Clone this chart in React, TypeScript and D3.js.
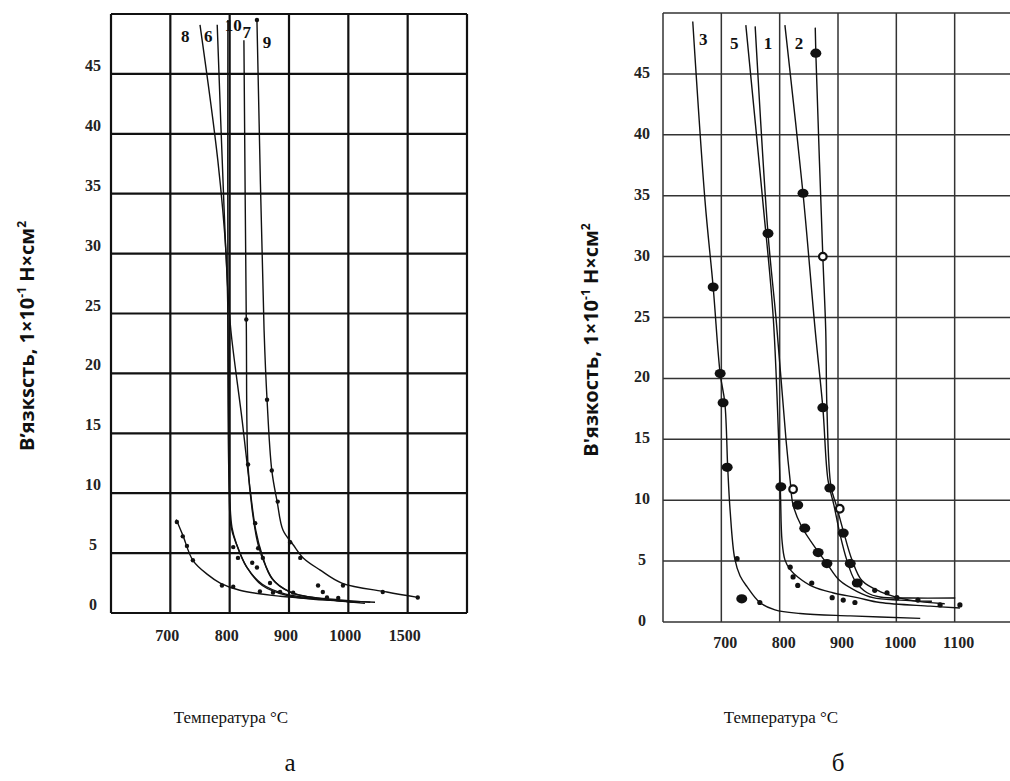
import React, { useEffect, useRef } from 'react';
import * as d3 from 'd3';

// ---------- panel "а" (left) ----------
const curve8 = [[750, 49.1], [780, 37.8], [794, 29.9], [797, 25.0], [799, 11.9], [802, 7.3], [811, 5.8], [828, 3.9], [855, 2.3], [902, 1.4], [986, 1.0], [1028, 0.8]];
const curve6 = [[779, 49.1], [790, 34.5], [796, 27.8], [802, 23.6], [821, 16.1], [834, 10.5], [844, 6.9], [855, 4.8], [871, 2.9], [902, 1.75], [969, 1.1], [1020, 0.9]];
const curve10 = [[797, 49.5], [797, 25.0], [799, 11.1], [804, 7.1], [812, 5.7], [829, 3.8], [855, 2.4], [893, 1.6], [969, 1.1], [1045, 0.9]];
const curve7 = [[824, 47.8], [828, 24.5], [831, 12.2], [839, 8.2], [848, 5.7], [860, 4.0], [876, 2.6], [910, 1.6], [986, 1.1], [1037, 0.9]];
const curve9 = [[846, 49.4], [858, 23.6], [863, 17.8], [871, 11.9], [880, 9.3], [890, 6.9], [907, 5.7], [924, 4.6], [952, 3.6], [989, 2.5], [1065, 1.75], [1117, 1.3]];
const curveLow = [[710, 7.8], [721, 6.5], [738, 4.4], [763, 3.2], [784, 2.5], [817, 1.9], [885, 1.4], [969, 1.1], [1011, 0.9]];

const leftDots = [
  [711, 7.6], [721, 6.4], [728, 5.6], [738, 4.4], [787, 2.3], [806, 2.2],
  [846, 49.5], [863, 17.8], [871, 11.9], [881, 9.3], [902, 5.9], [919, 4.6], [991, 2.3], [1058, 1.75], [1117, 1.3],
  [828, 24.5], [831, 12.4], [843, 7.5], [848, 5.4], [814, 4.6], [838, 4.2], [846, 3.8], [856, 4.6], [806, 5.5],
  [851, 1.8], [868, 2.5], [873, 1.7], [885, 1.75], [907, 1.7], [949, 2.3], [957, 1.75], [964, 1.3], [983, 1.25],
];

const leftCurveLabels = [
  { text: '8', t: 725, v: 48.2 },
  { text: '6', t: 764, v: 48.2 },
  { text: '10', t: 806, v: 49.1 },
  { text: '7', t: 829, v: 48.5 },
  { text: '9', t: 863, v: 47.7 },
];

const leftXTickLabels = ['700', '800', '900', '1000', '1500'];

// ---------- panel "б" (right) ----------
const curve3 = [[651, 49.3], [672, 34.6], [686, 27.5], [698, 20.4], [706, 18.0], [711, 12.6], [715, 9.2], [723, 5.2], [732, 3.8], [744, 2.9], [766, 1.6], [792, 1.0], [835, 0.7], [921, 0.5], [1041, 0.3]];
const curve5 = [[742, 49.0], [771, 34.6], [789, 25.0], [801, 11.1], [804, 6.7], [809, 5.1], [818, 4.3], [831, 3.7], [857, 2.9], [891, 2.4], [933, 2.0], [972, 1.6], [1058, 1.3], [1109, 1.15]];
const curve1 = [[758, 48.9], [780, 31.9], [794, 24.8], [811, 14.9], [818, 11.6], [823, 9.6], [838, 7.8], [864, 5.9], [881, 4.8], [903, 3.4], [933, 2.5], [960, 2.0], [1006, 1.8], [1061, 1.7]];
const curve2 = [[809, 49.0], [840, 35.2], [861, 23.9], [874, 17.6], [883, 11.6], [893, 9.6], [903, 7.3], [915, 5.1], [929, 3.4], [950, 2.4], [972, 2.05], [1023, 1.97], [1101, 1.97]];
const curve4 = [[861, 48.8], [862, 46.7], [874, 30.0], [879, 23.9], [881, 17.6], [888, 11.1], [897, 9.6], [909, 7.5], [924, 5.1], [941, 3.4], [972, 2.5], [1023, 1.8], [1083, 1.5]];

const rightBigDots = [
  [862, 46.7], [840, 35.2], [780, 31.9], [686, 27.5], [698, 20.4], [703, 18.0], [710, 12.7],
  [802, 11.1], [886, 11.0], [874, 17.6], [831, 9.6], [843, 7.7], [866, 5.7], [881, 4.8],
  [909, 7.3], [921, 4.8], [933, 3.2], [735, 1.9],
];
const rightOpenDots = [[823, 10.9], [874, 30.0], [903, 9.3]];
const rightSmallDots = [
  [727, 5.2], [766, 1.6], [818, 4.5], [823, 3.7], [831, 3.0], [855, 3.2], [890, 2.0], [909, 1.8], [929, 1.6],
  [963, 2.6], [984, 2.4], [1001, 2.0], [1037, 1.8], [1075, 1.4], [1109, 1.4],
];

const rightCurveLabels = [
  { text: '3', t: 669, v: 47.9 },
  { text: '5', t: 722, v: 47.5 },
  { text: '1', t: 780, v: 47.5 },
  { text: '2', t: 833, v: 47.5 },
];

const rightXTickLabels = ['700', '800', '900', '1000', '1100'];

const xTickValues = [700, 800, 900, 1000, 1100];
const yTickValues = [0, 5, 10, 15, 20, 25, 30, 35, 40, 45];
const xGridValues = [600, 700, 800, 900, 1000, 1100, 1200];

const SERIF = "'Liberation Serif', 'Times New Roman', serif";
const SANS = "'Open Sans', 'Noto Sans', sans-serif";

const drawPanel = (svg, p) => {
  const x = d3.scaleLinear().domain([600, 1200]).range([p.left, p.right]);
  const y = d3.scaleLinear().domain([0, 50]).range([p.bottom, p.top]);
  const g = svg.append('g');

  // grid + frame
  xGridValues.forEach(v => {
    g.append('line')
      .attr('x1', x(v)).attr('x2', x(v))
      .attr('y1', y(50)).attr('y2', y(0))
      .attr('stroke', p.gridColor).attr('stroke-width', p.gridWidth);
  });
  yTickValues.concat([50]).forEach(v => {
    g.append('line')
      .attr('x1', x(600)).attr('x2', x(1200))
      .attr('y1', y(v)).attr('y2', y(v))
      .attr('stroke', p.gridColor).attr('stroke-width', p.gridWidth);
  });

  // tick labels
  yTickValues.forEach(v => {
    g.append('text')
      .attr('x', p.yLabelX)
      .attr('y', y(v) + p.yLabelDy)
      .attr('text-anchor', 'middle')
      .style('font-family', SERIF)
      .style('font-weight', 'bold')
      .style('font-size', '16px')
      .attr('fill', '#222')
      .text(v);
  });
  xTickValues.forEach((v, i) => {
    g.append('text')
      .attr('x', x(v) + p.xLabelDx)
      .attr('y', p.xLabelY)
      .attr('text-anchor', 'middle')
      .style('font-family', SERIF)
      .style('font-weight', 'bold')
      .style('font-size', '16px')
      .attr('fill', '#222')
      .text(p.xLabels[i]);
  });

  // curves
  const line = d3.line()
    .x(d => x(d[0]))
    .y(d => y(d[1]))
    .curve(d3.curveCatmullRom.alpha(0.5));
  p.curves.forEach(c => {
    g.append('path')
      .datum(c)
      .attr('fill', 'none')
      .attr('stroke', '#111')
      .attr('stroke-width', p.curveWidth)
      .attr('d', line);
  });

  // dots
  (p.smallDots || []).forEach(d => {
    g.append('circle').attr('cx', x(d[0])).attr('cy', y(d[1])).attr('r', p.smallR).attr('fill', '#111');
  });
  (p.bigDots || []).forEach(d => {
    g.append('ellipse').attr('cx', x(d[0])).attr('cy', y(d[1])).attr('rx', 5.5).attr('ry', 4.6).attr('fill', '#111');
  });
  (p.openDots || []).forEach(d => {
    g.append('circle').attr('cx', x(d[0])).attr('cy', y(d[1])).attr('r', 3.8)
      .attr('fill', '#fff').attr('stroke', '#111').attr('stroke-width', 2.2);
  });

  // curve numbers
  p.curveLabels.forEach(l => {
    g.append('text')
      .attr('x', x(l.t))
      .attr('y', y(l.v))
      .attr('dy', '0.35em')
      .attr('text-anchor', 'middle')
      .style('font-family', SERIF)
      .style('font-weight', 'bold')
      .style('font-size', '17px')
      .attr('fill', '#111')
      .text(l.text);
  });

  // y-axis title
  const yt = g.append('text')
    .attr('transform', `translate(${p.yTitleX},${p.yTitleY}) rotate(-90)`)
    .attr('text-anchor', 'middle')
    .style('font-family', SANS)
    .style('font-weight', 'bold')
    .style('font-size', '20px')
    .attr('fill', '#111');
  yt.append('tspan').text(p.yTitle);
  yt.append('tspan').attr('dy', -8).style('font-size', '12px').text('-1');
  yt.append('tspan').attr('dy', 8).text(' Н×см');
  yt.append('tspan').attr('dy', -8).style('font-size', '12px').text('2');

  // x-axis title
  g.append('text')
    .attr('x', p.xTitleX)
    .attr('y', 723)
    .attr('text-anchor', 'middle')
    .style('font-family', SERIF)
    .style('font-size', '17px')
    .attr('fill', '#111')
    .text('Температура °C');

  // panel letter
  g.append('text')
    .attr('x', p.letterX)
    .attr('y', 771)
    .attr('text-anchor', 'middle')
    .style('font-family', SERIF)
    .style('font-size', '25px')
    .attr('fill', '#111')
    .text(p.letter);
};

const App = () => {
  const svgRef = useRef(null);

  useEffect(() => {
    const svg = d3.select(svgRef.current);
    svg.selectAll('*').remove();
    svg.append('rect').attr('width', 1010).attr('height', 781).attr('fill', '#fff');

    drawPanel(svg, {
      left: 111, right: 467, top: 14, bottom: 613,
      gridColor: '#111', gridWidth: 2.2, curveWidth: 1.4,
      curves: [curve8, curve6, curve10, curve7, curve9, curveLow],
      smallDots: leftDots, smallR: 2.2,
      curveLabels: leftCurveLabels,
      xLabels: leftXTickLabels, xLabelY: 641, xLabelDx: -3,
      yLabelX: 93, yLabelDy: -3,
      yTitle: 'В’язкsсть, 1×10', yTitleX: 34, yTitleY: 336,
      xTitleX: 231, letterX: 290, letter: 'а',
    });

    drawPanel(svg, {
      left: 663, right: 1013, top: 13, bottom: 622,
      gridColor: '#333', gridWidth: 1.5, curveWidth: 1.4,
      curves: [curve3, curve5, curve1, curve2, curve4],
      smallDots: rightSmallDots, smallR: 2.6,
      bigDots: rightBigDots, openDots: rightOpenDots,
      curveLabels: rightCurveLabels,
      xLabels: rightXTickLabels, xLabelY: 648, xLabelDx: 4,
      yLabelX: 642, yLabelDy: 4,
      yTitle: 'В\'язкость, 1×10', yTitleX: 598, yTitleY: 340,
      xTitleX: 781, letterX: 838, letter: 'б',
    });
  }, []);

  return (
    <svg
      ref={svgRef}
      width={1010}
      height={781}
      style={{ position: 'absolute', left: 0, top: 0, display: 'block' }}
    />
  );
};

export default App;
